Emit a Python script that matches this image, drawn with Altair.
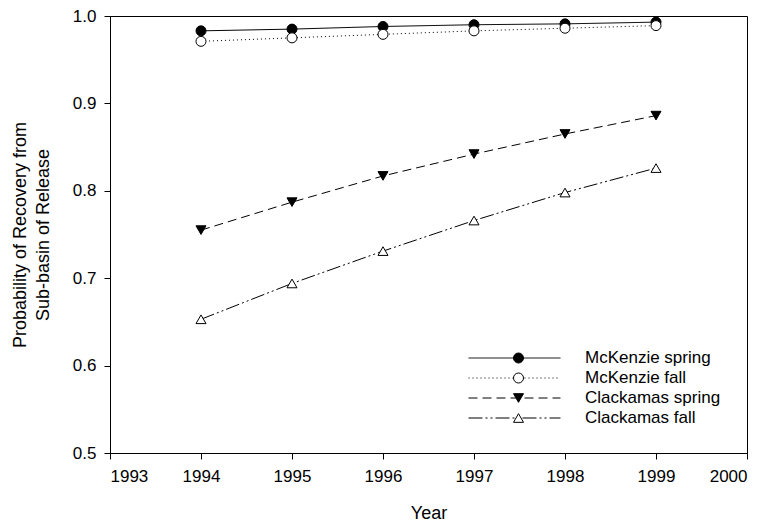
import altair as alt
import pandas as pd

years = [1994, 1995, 1996, 1997, 1998, 1999]
series_names = ["McKenzie spring", "McKenzie fall", "Clackamas spring", "Clackamas fall"]
mck_spring = [0.983, 0.985, 0.988, 0.990, 0.991, 0.993]
mck_fall = [0.971, 0.975, 0.979, 0.983, 0.986, 0.989]
clk_spring = [0.755, 0.787, 0.817, 0.842, 0.865, 0.886]
clk_fall = [0.653, 0.694, 0.731, 0.766, 0.798, 0.826]

x_ticks = [1993, 1994, 1995, 1996, 1997, 1998, 1999, 2000]
y_ticks = [0.5, 0.6, 0.7, 0.8, 0.9, 1.0]

dash_range = [[1, 0], [1, 3], [9, 5], [14, 3, 2, 3, 2, 3]]
shape_range = ["circle", "circle", "triangle-down", "triangle-up"]
fill_range = ["black", "white", "black", "white"]

rows = []
for name, vals in zip(series_names, [mck_spring, mck_fall, clk_spring, clk_fall]):
    for yr, v in zip(years, vals):
        rows.append({"year": yr, "prob": v, "series": name, "marker": name})
df = pd.DataFrame(rows)

FONT = "Liberation Sans"

x_enc = alt.X("year:Q", scale=alt.Scale(domain=[1993, 2000], nice=False, zero=False),
              axis=alt.Axis(values=x_ticks, format="d", title="Year", grid=False,
                            tickSize=6, labelPadding=9, titlePadding=20))
y_enc = alt.Y("prob:Q", scale=alt.Scale(domain=[0.5, 1.0], nice=False, zero=False),
              axis=alt.Axis(values=y_ticks, format=".1f",
                            title=["Probability of Recovery from", "Sub-basin of Release"],
                            grid=False, tickSize=6, labelPadding=8, titlePadding=20,
                            titleLineHeight=23))

lines = alt.Chart(df).mark_line(color="black", strokeWidth=1).encode(
    x=x_enc, y=y_enc,
    strokeDash=alt.StrokeDash("series:N", sort=series_names,
        scale=alt.Scale(range=dash_range),
        legend=alt.Legend(orient="none", legendX=358, legendY=332, title=None,
                          symbolType="stroke", symbolSize=8464, symbolStrokeWidth=1,
                          symbolStrokeColor="black", labelOffset=24, clipHeight=20,
                          rowPadding=0, padding=0, labelFontSize=17, labelFont=FONT,
                          labelColor="black")),
    order=alt.Order("year:Q"),
)

marker_legend = alt.Legend(orient="none", legendX=400, legendY=332, title=None,
                           symbolSize=100, symbolStrokeWidth=1,
                           clipHeight=20, rowPadding=0, padding=0, labelFontSize=17,
                           labelFont=FONT, labelExpr="''")

points = alt.Chart(df).mark_point(filled=False, strokeWidth=1, opacity=1, size=100).encode(
    x="year:Q", y="prob:Q",
    color=alt.value("black"),
    shape=alt.Shape("marker:N", scale=alt.Scale(domain=series_names, range=shape_range),
                    legend=marker_legend),
    fill=alt.Fill("marker:N", scale=alt.Scale(domain=series_names, range=fill_range),
                  legend=marker_legend),
)

chart = alt.layer(lines, points).properties(
    width=637, height=437,
    autosize=alt.AutoSizeParams(type="none"),
    padding={"left": 102, "top": 8, "right": 12, "bottom": 72},
    background="white",
).configure_view(stroke="black", strokeWidth=1).configure_axis(
    domainColor="black", tickColor="black", labelColor="black", titleColor="black",
    labelFont=FONT, titleFont=FONT, labelFontSize=17, titleFontSize=18,
    titleFontWeight="normal", domainWidth=1, tickWidth=1,
)

chart.save("out.html", embed_options={"renderer": "svg", "actions": False})
